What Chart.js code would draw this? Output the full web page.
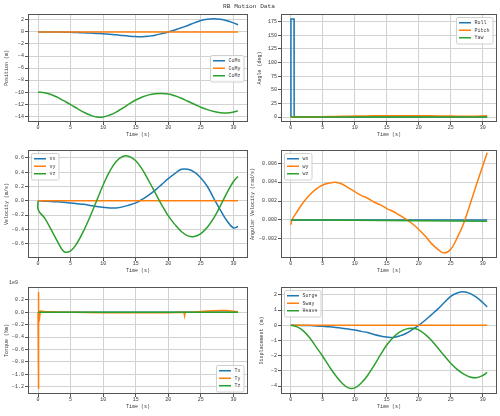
<!DOCTYPE html>
<html>
<head>
<meta charset="utf-8">
<script src="https://cdn.jsdelivr.net/npm/chart.js@4.4.1/dist/chart.umd.min.js"></script>
<style>
  html, body { margin: 0; padding: 0; background: #fff; }
  #wrap { position: relative; width: 500px; height: 416px; }
  #wrap canvas { position: absolute; left: 0; top: 0; }
</style>
</head>
<body>
<div id="wrap">
  <canvas id="pos" width="500" height="416"></canvas>
  <canvas id="ang" width="500" height="416"></canvas>
  <canvas id="vel" width="500" height="416"></canvas>
  <canvas id="angvel" width="500" height="416"></canvas>
  <canvas id="torque" width="500" height="416"></canvas>
  <canvas id="disp" width="500" height="416"></canvas>
</div>
<script>
// time base (s)
const t = [0,1,2,3,4,5,6,7,8,9,10,11,12,13,14,15,16,17,18,19,20,21,22,23,24,25,26,27,28,29,30,30.7];
const tEnds = [0, 30.7];

// position (m)
const comX = [0,0,-0.01,-0.02,-0.04,-0.07,-0.1,-0.14,-0.19,-0.25,-0.31,-0.4,-0.48,-0.6,-0.7,-0.77,-0.8,-0.7,-0.54,-0.28,0,0.33,0.7,1.08,1.5,1.9,2.12,2.2,2.1,1.85,1.5,1.2];
const comY = [0, 0];
const comZ = [-10,-10.1,-10.38,-10.85,-11.45,-12.05,-12.7,-13.3,-13.8,-14.12,-14.12,-13.8,-13.3,-12.65,-11.95,-11.3,-10.8,-10.45,-10.25,-10.2,-10.3,-10.6,-11,-11.5,-12,-12.5,-12.9,-13.2,-13.4,-13.45,-13.3,-13.1];

// attitude (deg)
const rollT = [0, 0.02, 0.5, 0.52, 30.7];
const roll = [0, 180, 180, 0, 0];
const pitchT = [0,2,4,6,8,10,12,14,16,18,20,22,24,26,28,30,30.7];
const pitch = [0,0.2,0.6,1.0,1.5,1.85,2.15,2.35,2.5,2.6,2.55,2.3,1.95,1.7,1.7,2.1,2.4];
const yaw = [0, 0];

// velocity (m/s)
const vx = [0,-0.005,-0.01,-0.015,-0.02,-0.03,-0.04,-0.05,-0.065,-0.08,-0.09,-0.1,-0.1,-0.085,-0.06,-0.03,0.02,0.08,0.15,0.23,0.31,0.38,0.44,0.44,0.4,0.32,0.2,0.03,-0.13,-0.28,-0.38,-0.36];
const vy = [0, 0];
const vzT = [0,0.05,1,2,3,4,5,6,7,8,9,10,11,12,13,14,15,16,17,18,19,20,21,22,23,24,25,26,27,28,29,30,30.7];
const vz = [0,-0.13,-0.24,-0.4,-0.57,-0.71,-0.7,-0.59,-0.42,-0.22,0,0.22,0.41,0.55,0.62,0.62,0.56,0.44,0.28,0.11,-0.06,-0.21,-0.33,-0.43,-0.49,-0.5,-0.46,-0.37,-0.24,-0.07,0.11,0.27,0.34];

// angular velocity (rad/s)
const wx = [0, 0];
const wyT = [0,0.25,1,2,3,4,5,6,7,8,9,10,11,12,13,14,15,16,17,18,19,20,21,22,23,24,25,26,27,28,29,30,30.7];
const wy = [-0.0005,0.0001,0.0009,0.0019,0.0027,0.0033,0.0037,0.0039,0.004,0.0038,0.0034,0.003,0.0026,0.0023,0.0019,0.0016,0.0012,0.0009,0.0005,0.0001,-0.0004,-0.001,-0.0017,-0.0025,-0.0031,-0.0035,-0.0031,-0.0019,-0.0004,0.0016,0.0037,0.0057,0.0071];
const wzT = [0, 10, 20, 30.7];
const wz = [0, -0.00003, -0.00007, -0.00013];

// torque (x1e9 Nm)
const tx = [0, 0];
const tyT = [0,0.03,0.08,0.15,0.25,0.35,1,2,3,5,10,15,20,22.4,22.5,22.6,24,26,28,29,30,30.7];
const ty = [0,0.33,-1.24,0.02,-0.08,0.02,0.015,0.01,0.005,0,-0.005,-0.005,-0.005,0,-0.055,0,0.005,0.02,0.03,0.03,0.02,0.01];
const tz = [0, 0];

// displacement (m)
const surge = [0,0,-0.01,-0.02,-0.04,-0.07,-0.1,-0.14,-0.19,-0.25,-0.31,-0.4,-0.48,-0.6,-0.7,-0.77,-0.8,-0.7,-0.54,-0.28,0,0.33,0.7,1.08,1.5,1.9,2.12,2.2,2.1,1.85,1.5,1.2];
const sway = [0, 0];
const heave = [0,-0.1,-0.38,-0.85,-1.45,-2.05,-2.7,-3.3,-3.8,-4.12,-4.12,-3.8,-3.3,-2.65,-1.95,-1.3,-0.8,-0.45,-0.25,-0.2,-0.3,-0.6,-1,-1.5,-2,-2.5,-2.9,-3.2,-3.4,-3.45,-3.3,-3.1];

const xTicks = [0, 5, 10, 15, 20, 25, 30];

const FAMILY = '"Liberation Mono", "DejaVu Sans Mono", monospace';
const FS = 5;
const INK = '#3a3a3a';
const COLORS = ['#1f77b4', '#ff7f0e', '#2ca02c'];
const minus = s => String(s).replace('-', '\u2212');

function pts(xs, ys) {
    return xs.map((x, i) => ({x: x, y: ys[i]}));
}

// frame, legend and loose texts, drawn like the matplotlib figure
const figBits = {
    id: 'figBits',
    afterDatasetsDraw(chart, args, o) {
        const {ctx, chartArea: a} = chart;
        ctx.save();
        ctx.strokeStyle = '#555';
        ctx.lineWidth = 1;
        ctx.strokeRect(a.left + 0.5, a.top + 0.5, a.right - a.left - 1, a.bottom - a.top - 1);

        ctx.font = FS + 'px ' + FAMILY;
        const items = chart.data.datasets;
        const tw = Math.max(...items.map(d => ctx.measureText(d.label).width));
        const rowH = 7.5;
        const w = 3 + 12 + 3.5 + tw + 3, h = 4 + items.length * rowH;
        let x, y;
        if (o.loc.includes('w')) x = a.left + 3; else x = a.right - 4 - w;
        if (o.loc.includes('n')) y = a.top + 3;
        else if (o.loc.includes('s')) y = a.bottom - 3 - h;
        else y = (a.top + a.bottom) / 2 - h / 2;
        x = Math.round(x); y = Math.round(y);
        ctx.fillStyle = 'rgba(255,255,255,0.85)';
        ctx.strokeStyle = '#d0d0d0';
        ctx.beginPath();
        ctx.roundRect(x + 0.5, y + 0.5, w, h, 1.5);
        ctx.fill();
        ctx.stroke();
        items.forEach((d, i) => {
            const cy = y + 2 + rowH * i + rowH / 2;
            ctx.strokeStyle = d.borderColor;
            ctx.lineWidth = 1.5;
            ctx.beginPath();
            ctx.moveTo(x + 3, cy);
            ctx.lineTo(x + 15, cy);
            ctx.stroke();
            ctx.fillStyle = INK;
            ctx.textBaseline = 'middle';
            ctx.textAlign = 'left';
            ctx.fillText(d.label, x + 18.5, cy);
        });

        (o.texts || []).forEach(s => {
            ctx.font = s.size + 'px ' + FAMILY;
            ctx.fillStyle = INK;
            ctx.textAlign = s.align;
            ctx.textBaseline = 'middle';
            ctx.fillText(s.text, s.x, s.y);
        });
        ctx.restore();
    }
};

// area = [left, top, right, bottom] of the plot box, padL = where the y title column starts
function makeChart(id, spec) {
    const XH = 16;
    const yW = spec.area[0] - spec.padL;
    return new Chart(document.getElementById(id), {
        type: 'line',
        data: {
            datasets: spec.series.map((s, i) => ({
                label: s.label,
                data: pts(s.x, s.y),
                borderColor: COLORS[i],
                backgroundColor: COLORS[i],
                borderWidth: 1.5,
                pointRadius: 0,
                fill: false,
                tension: s.sharp ? 0 : 0.4,
                order: 3 - i
            }))
        },
        options: {
            responsive: false,
            animation: false,
            devicePixelRatio: 1,
            events: [],
            layout: {
                padding: {
                    left: spec.padL,
                    right: 500 - spec.area[2],
                    top: spec.area[1],
                    bottom: 416 - spec.area[3] - XH
                }
            },
            plugins: {
                legend: { display: false },
                tooltip: { enabled: false },
                figBits: { loc: spec.loc, texts: spec.texts }
            },
            scales: {
                x: {
                    type: 'linear',
                    min: -1.535,
                    max: 32.235,
                    afterBuildTicks: s => { s.ticks = xTicks.map(v => ({value: v})); },
                    afterFit: s => { s.height = XH; },
                    border: { display: false },
                    grid: { color: '#d2d2d2', lineWidth: 1, tickLength: 3, tickColor: '#555' },
                    ticks: { font: { family: FAMILY, size: FS }, color: INK, padding: 0, maxRotation: 0,
                             callback: v => String(v) },
                    title: { display: true, text: 'Time (s)', font: { family: FAMILY, size: FS },
                             color: INK, padding: 0 }
                },
                y: {
                    type: 'linear',
                    min: spec.yMin,
                    max: spec.yMax,
                    afterBuildTicks: s => { s.ticks = spec.yTicks.map(v => ({value: v})); },
                    afterFit: s => { s.width = yW; },
                    border: { display: false },
                    grid: { color: '#d2d2d2', lineWidth: 1, tickLength: 3, tickColor: '#555' },
                    ticks: { font: { family: FAMILY, size: FS }, color: INK, padding: 1,
                             callback: v => minus(spec.fmt(v)) },
                    title: { display: true, text: spec.yTitle, font: { family: FAMILY, size: FS },
                             color: INK, padding: 0 }
                }
            }
        },
        plugins: [figBits]
    });
}

makeChart('pos', {
    area: [28, 14, 248, 122], padL: 4, loc: 'e',
    yMin: -14.95, yMax: 2.98, yTicks: [-14,-12,-10,-8,-6,-4,-2,0,2], fmt: v => v.toFixed(0),
    yTitle: 'Position (m)',
    texts: [{ text: 'RB Motion Data', x: 249, y: 6, size: 6.2, align: 'center' }],
    series: [
        { label: 'CoMx', x: t, y: comX },
        { label: 'CoMy', x: tEnds, y: comY },
        { label: 'CoMz', x: t, y: comZ }
    ]
});

makeChart('ang', {
    area: [281, 14, 497, 122], padL: 257, loc: 'ne',
    yMin: -9, yMax: 189, yTicks: [0,25,50,75,100,125,150,175], fmt: v => v.toFixed(0),
    yTitle: 'Angle (deg)',
    series: [
        { label: 'Roll', x: rollT, y: roll, sharp: true },
        { label: 'Pitch', x: pitchT, y: pitch },
        { label: 'Yaw', x: tEnds, y: yaw }
    ]
});

makeChart('vel', {
    area: [28, 150, 248, 258], padL: 4, loc: 'nw',
    yMin: -0.8, yMax: 0.71, yTicks: [-0.6,-0.4,-0.2,0,0.2,0.4,0.6], fmt: v => v.toFixed(1),
    yTitle: 'Velocity (m/s)',
    series: [
        { label: 'vx', x: t, y: vx },
        { label: 'vy', x: tEnds, y: vy },
        { label: 'vz', x: vzT, y: vz }
    ]
});

makeChart('angvel', {
    area: [281, 150, 497, 258], padL: 250, loc: 'nw',
    yMin: -0.00402, yMax: 0.0074, yTicks: [-0.002,0,0.002,0.004,0.006], fmt: v => v.toFixed(3),
    yTitle: 'Angular Velocity (rad/s)',
    series: [
        { label: 'wx', x: tEnds, y: wx },
        { label: 'wy', x: wyT, y: wy },
        { label: 'wz', x: wzT, y: wz }
    ]
});

makeChart('torque', {
    area: [28, 287, 248, 394], padL: 4, loc: 'se',
    yMin: -1.32, yMax: 0.41, yTicks: [-1.2,-1.0,-0.8,-0.6,-0.4,-0.2,0,0.2], fmt: v => v.toFixed(1),
    yTitle: 'Torque (Nm)',
    texts: [{ text: '1e9', x: 9, y: 283, size: FS, align: 'left' }],
    series: [
        { label: 'Tx', x: tEnds, y: tx },
        { label: 'Ty', x: tyT, y: ty, sharp: true },
        { label: 'Tz', x: tEnds, y: tz }
    ]
});

makeChart('disp', {
    area: [281, 287, 497, 394], padL: 259, loc: 'nw',
    yMin: -4.52, yMax: 2.52, yTicks: [-4,-3,-2,-1,0,1,2], fmt: v => v.toFixed(0),
    yTitle: 'Displacement (m)',
    series: [
        { label: 'Surge', x: t, y: surge },
        { label: 'Sway', x: tEnds, y: sway },
        { label: 'Heave', x: t, y: heave }
    ]
});
</script>
</body>
</html>
